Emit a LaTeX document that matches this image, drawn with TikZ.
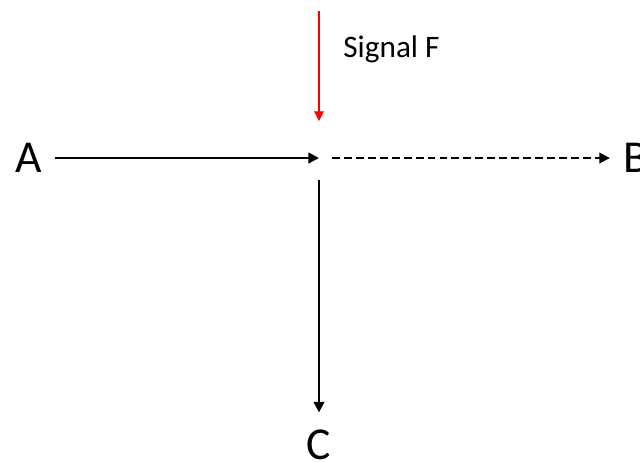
\documentclass[tikz,border=0pt]{standalone}
\usepackage{fontspec}
\setmainfont{Carlito}
\usetikzlibrary{arrows.meta}

\begin{document}
\begin{tikzpicture}[x=0.02cm,y=-0.02cm,
    letter/.style={inner sep=0pt,outer sep=7.5pt,font=\fontsize{26}{30}\selectfont},
    flow/.style={line width=1.3pt,-{Triangle[length=6pt,width=6pt]}},
    signal/.style={red,line width=0.6pt,-{Triangle[length=5.5pt,width=5.5pt]}}]
    \useasboundingbox (0,0) rectangle (640,461);
    % nodes
    \node[letter] (A) at (28.5,158) {A};
    \node[letter] (B) at (635.5,158) {B};
    \node[letter,outer sep=10pt] (C) at (319,445) {C};
    \node[anchor=base west,inner sep=0pt,font=\fontsize{17.8}{21}\selectfont] (sig) at (343,57) {Signal F};
    % junction points
    \coordinate (in) at (319,158);
    \coordinate (out) at (332,158);
    \coordinate (down) at (319,180);
    \coordinate (ftop) at (319,11);
    \coordinate (ftip) at (319,121);
    % connectors
    \draw[flow] (A) -- (in);
    \draw[flow,dash pattern=on 4.5pt off 2.3pt] (out) -- (B);
    \draw[flow] (down) -- (C);
    \draw[signal] (ftop) -- (ftip);
\end{tikzpicture}
\end{document}
